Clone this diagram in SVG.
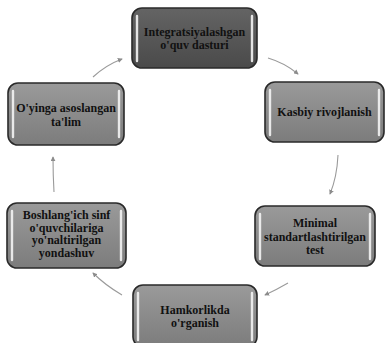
<svg xmlns="http://www.w3.org/2000/svg" width="385" height="343" viewBox="0 0 385 343">
<defs>
<linearGradient id="g" x1="0" y1="0" x2="0" y2="1">
<stop offset="0" stop-color="#9a9a9a"/>
<stop offset="1" stop-color="#7c7c7c"/>
</linearGradient>
<linearGradient id="gd" x1="0" y1="0" x2="0" y2="1">
<stop offset="0" stop-color="#646464"/>
<stop offset="1" stop-color="#4a4a4a"/>
</linearGradient>
<marker id="ah" viewBox="0 0 6 6" refX="5" refY="3" markerWidth="5" markerHeight="5" orient="auto" markerUnits="userSpaceOnUse">
<path d="M0,0 L6,3 L0,6 z" fill="#8c8c8c"/>
</marker>
<style>
.box{fill:url(#g);stroke:#2a2a2a;stroke-width:1.6}
.dark{fill:url(#gd)}
.hl{stroke:#f4f4f4;stroke-width:2.4;stroke-linecap:round;opacity:0.9}
.t{font-family:"Liberation Serif","Times New Roman",serif;font-weight:bold;font-size:12px;fill:#111;text-anchor:middle}
.c{fill:none;stroke:#9a9a9a;stroke-width:1.1;marker-end:url(#ah)}
</style>
</defs>
<rect width="385" height="343" fill="#fff"/>
<g id="connectors">
<path class="c" d="M93,77 Q106,65 122,59"/>
<path class="c" d="M268,58 Q285,63 298,74"/>
<path class="c" d="M338,155 Q337,177 330,194"/>
<path class="c" d="M288,283 Q276,290 265,295"/>
<path class="c" d="M122,295 Q105,285 93,273"/>
<path class="c" d="M54,192 Q53,175 53,157"/>
</g>
<g id="n1">
<rect class="box dark" x="132" y="8" width="125" height="60" rx="10"/>
<line class="hl" x1="137" y1="16" x2="137" y2="61"/>
<line class="hl" x1="252" y1="16" x2="252" y2="61"/>
<text class="t" x="194.5" y="36">Integratsiyalashgan</text>
<text class="t" x="194.5" y="49">o'quv dasturi</text>
</g>
<g id="n2">
<rect class="box" x="265" y="82" width="119" height="60" rx="10"/>
<line class="hl" x1="270" y1="90" x2="270" y2="135"/>
<line class="hl" x1="379" y1="90" x2="379" y2="135"/>
<text class="t" x="324.5" y="116">Kasbiy rivojlanish</text>
</g>
<g id="n3">
<rect class="box" x="255" y="206" width="120" height="60" rx="10"/>
<line class="hl" x1="260" y1="214" x2="260" y2="259"/>
<line class="hl" x1="370" y1="214" x2="370" y2="259"/>
<text class="t" x="315" y="227">Minimal</text>
<text class="t" x="315" y="240.5">standartlashtirilgan</text>
<text class="t" x="315" y="254">test</text>
</g>
<g id="n4">
<rect class="box" x="133" y="285" width="124" height="62" rx="10"/>
<line class="hl" x1="138" y1="293" x2="138" y2="340"/>
<line class="hl" x1="252" y1="293" x2="252" y2="340"/>
<text class="t" x="195" y="314">Hamkorlikda</text>
<text class="t" x="195" y="327">o'rganish</text>
</g>
<g id="n5">
<rect class="box" x="7" y="203" width="119" height="65" rx="10"/>
<line class="hl" x1="12" y1="211" x2="12" y2="260"/>
<line class="hl" x1="121" y1="211" x2="121" y2="260"/>
<text class="t" x="66.5" y="219">Boshlang'ich sinf</text>
<text class="t" x="66.5" y="231.5">o'quvchilariga</text>
<text class="t" x="66.5" y="244">yo'naltirilgan</text>
<text class="t" x="66.5" y="256.5">yondashuv</text>
</g>
<g id="n6">
<rect class="box" x="8" y="83" width="116" height="62" rx="10"/>
<line class="hl" x1="13" y1="91" x2="13" y2="137"/>
<line class="hl" x1="119" y1="91" x2="119" y2="137"/>
<text class="t" x="66" y="112">O'yinga asoslangan</text>
<text class="t" x="66" y="126">ta'lim</text>
</g>
</svg>
